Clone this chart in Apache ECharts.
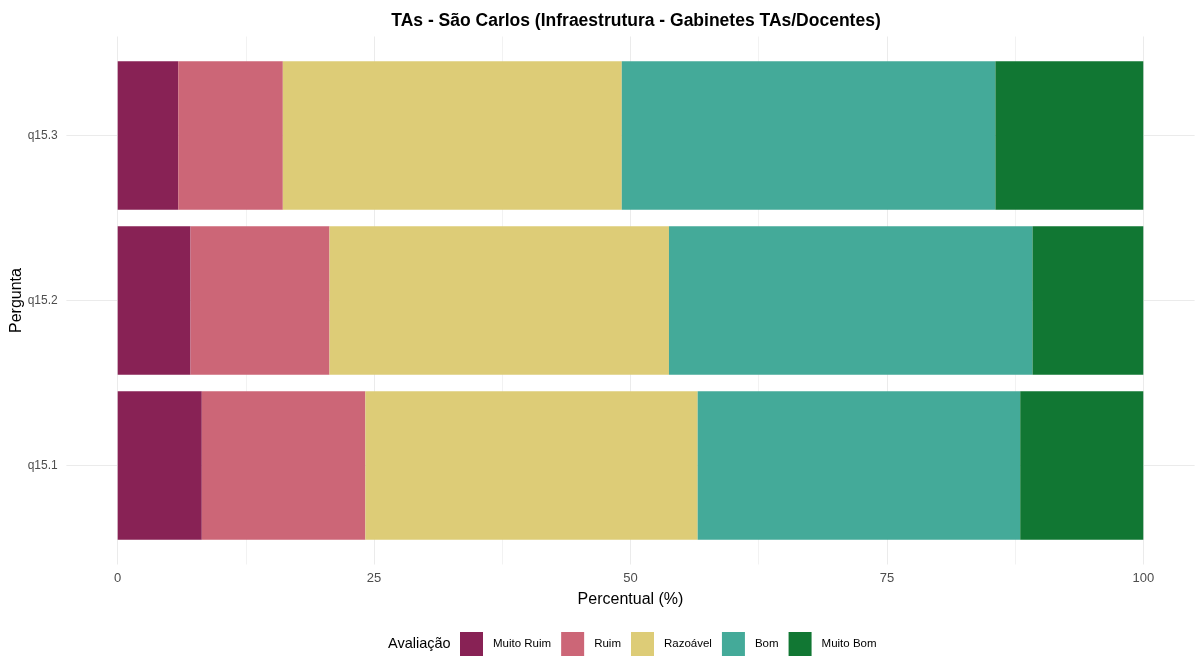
<!DOCTYPE html>
<html><head><meta charset="utf-8">
<script src="https://cdn.jsdelivr.net/npm/echarts@6/dist/echarts.min.js"></script>
<style>html,body{margin:0;padding:0;background:#fff}#c{width:1200px;height:657px}</style>
</head><body><div id="c"></div>
<script>
const categories = ['q15.1', 'q15.2', 'q15.3'];
const seriesNames = ['Muito Ruim', 'Ruim', 'Razoável', 'Bom', 'Muito Bom'];
const muitoRuim = [8.2, 7.1, 5.9];
const ruim = [15.95, 13.55, 10.2];
const razoavel = [32.4, 33.1, 33.05];
const bom = [31.45, 35.45, 36.43];
const muitoBom = [12.0, 10.8, 14.42];
const xTicks = [0, 25, 50, 75, 100];
const xMinorTicks = [12.5, 37.5, 62.5, 87.5];
const colors = ['#882255', '#CC6677', '#DDCC77', '#44AA99', '#117733'];
const values = [muitoRuim, ruim, razoavel, bom, muitoBom];

const chart = echarts.init(document.getElementById('c'));
const font = 'Liberation Sans, Arial, sans-serif';

const barSeries = seriesNames.map((n, i) => ({
  name: n, type: 'bar', stack: 'total', xAxisIndex: 0, yAxisIndex: 0,
  barWidth: '90%', data: values[i], z: 3,
  itemStyle: { color: colors[i] }, emphasis: { disabled: true }
}));

const gridSeries = {
  type: 'line', xAxisIndex: 1, yAxisIndex: 1, data: [[-5, 0.4]], symbol: 'none',
  silent: true, z: 1, legendHoverLink: false,
  markLine: {
    silent: true, symbol: 'none', animation: false, label: { show: false }, z: 1,
    data: [
      ...xMinorTicks.map(v => ({ xAxis: v, lineStyle: { color: '#f2f2f2', width: 1, type: 'solid' } })),
      ...xTicks.map(v => ({ xAxis: v, lineStyle: { color: '#ebebeb', width: 1, type: 'solid' } })),
      ...categories.map((c, i) => ({ yAxis: i + 1, lineStyle: { color: '#ebebeb', width: 1, type: 'solid' } }))
    ]
  }
};

chart.setOption({
  animation: false,
  backgroundColor: '#ffffff',
  color: colors,
  title: [
    { text: 'TAs - São Carlos (Infraestrutura - Gabinetes TAs/Docentes)', left: 631, textAlign: 'center', top: 7,
      textStyle: { fontFamily: font, fontSize: 17.5, fontWeight: 'bold', color: '#000' } },
    { text: 'Avaliação', left: 383, top: 631,
      textStyle: { fontFamily: font, fontSize: 14.5, fontWeight: 'normal', color: '#000' } }
  ],
  legend: {
    data: seriesNames, left: 455, top: 627, itemWidth: 23, itemHeight: 24, itemGap: 10,
    icon: 'rect', textStyle: { fontFamily: font, fontSize: 11.5, color: '#000', padding: [0, 0, 0, 5] },
    selectedMode: false
  },
  grid: [
    { left: 117.7, right: 56.7, top: 53, bottom: 109, containLabel: false, outerBoundsMode: 'none' },
    { left: 66.4, right: 5.4, top: 36.5, bottom: 92.5, containLabel: false, outerBoundsMode: 'none' }
  ],
  xAxis: [
    { type: 'value', gridIndex: 0, min: 0, max: 100, interval: 25,
      name: 'Percentual (%)', nameLocation: 'middle', nameGap: 44, nameMoveOverlap: false,
      nameTextStyle: { fontFamily: font, fontSize: 16, color: '#000' },
      axisLine: { show: false }, axisTick: { show: false }, splitLine: { show: false },
      axisLabel: { margin: 24, fontFamily: font, fontSize: 13, color: '#4d4d4d',
        formatter: v => xTicks.includes(v) ? String(v) : '' } },
    { type: 'value', gridIndex: 1, min: -5, max: 105, show: false }
  ],
  yAxis: [
    { type: 'category', gridIndex: 0, data: categories,
      name: 'Pergunta', nameLocation: 'middle', nameGap: 93, nameRotate: 90, nameMoveOverlap: false,
      nameTextStyle: { fontFamily: font, fontSize: 16, color: '#000' },
      axisLine: { show: false }, axisTick: { show: false }, splitLine: { show: false },
      axisLabel: { margin: 60, fontFamily: font, fontSize: 12, color: '#4d4d4d' } },
    { type: 'value', gridIndex: 1, min: 0.4, max: 3.6, show: false }
  ],
  series: [gridSeries, ...barSeries]
});
</script></body></html>
